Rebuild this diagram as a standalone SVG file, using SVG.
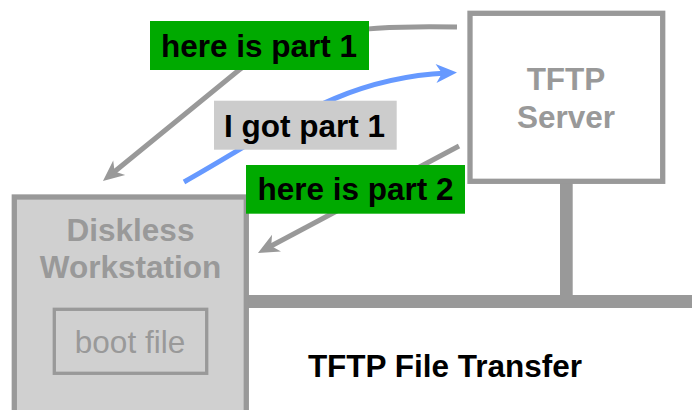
<svg xmlns="http://www.w3.org/2000/svg" width="692" height="410" viewBox="0 0 692 410">
  <style>
    text { font-family: "Liberation Sans", Arial, sans-serif; font-size: 31.5px; text-anchor: middle; }
    .bold { font-weight: bold; }
    .node-title { font-weight: bold; fill: #999999; }
    .label-text { font-weight: bold; fill: #000000; }
    .wire { fill: #999999; }
    .flow { fill: none; stroke-width: 5; }
    .grey-flow { stroke: #999999; }
    .blue-flow { stroke: #6699ff; }
    .green-tag { fill: #00aa00; }
    .grey-tag { fill: #cccccc; }
  </style>
  <defs>
    <marker id="head-grey" markerUnits="userSpaceOnUse" viewBox="-12 -11 24 22" refX="0" refY="0" markerWidth="24" markerHeight="22" orient="auto">
      <path d="M10,0 L-11,-9.5 L-5,0 L-11,9.5 Z" fill="#999999"/>
    </marker>
    <marker id="head-blue" markerUnits="userSpaceOnUse" viewBox="-12 -11 24 22" refX="0" refY="0" markerWidth="24" markerHeight="22" orient="auto">
      <path d="M10,0 L-11,-9.5 L-5,0 L-11,9.5 Z" fill="#6699ff"/>
    </marker>
  </defs>

  <!-- network bus and server drop -->
  <g id="network">
    <rect class="wire" x="246" y="295" width="446" height="13"/>
    <rect class="wire" x="560" y="181" width="12.7" height="116"/>
  </g>

  <g id="tftp-server">
    <rect x="470" y="13.3" width="192.7" height="168" fill="#ffffff" stroke="#999999" stroke-width="5.3"/>
    <text class="node-title" x="566" y="90">TFTP</text>
    <text class="node-title" x="566" y="127.7">Server</text>
  </g>

  <g id="diskless-workstation">
    <rect x="14.3" y="197" width="232" height="230" fill="#d0d0d0" stroke="#999999" stroke-width="5.3"/>
    <text class="node-title" x="130.5" y="241">Diskless</text>
    <text class="node-title" x="130.5" y="278">Workstation</text>
  </g>

  <g id="boot-file">
    <rect x="54.3" y="309.3" width="152.4" height="64" fill="none" stroke="#999999" stroke-width="3.3"/>
    <text x="130" y="352.7" fill="#999999">boot file</text>
  </g>

  <!-- message flows between the two hosts -->
  <g id="connectors">
    <path class="flow grey-flow" d="M457,27 C370,25 290,30 239,70 L110.7,174.7" marker-end="url(#head-grey)"/>
    <path class="flow blue-flow" d="M184,182 C280,128 340,78 447,73" marker-end="url(#head-blue)"/>
    <path class="flow grey-flow" d="M459,146 L266.8,248.3" marker-end="url(#head-grey)"/>
  </g>

  <g id="label-part1">
    <rect class="green-tag" x="150" y="21" width="219" height="49"/>
    <text class="label-text" x="259" y="57.3">here is part 1</text>
  </g>

  <g id="label-ack1">
    <rect class="grey-tag" x="214" y="100.7" width="182.7" height="49"/>
    <text class="label-text" x="304.5" y="136.7">I got part 1</text>
  </g>

  <g id="label-part2">
    <rect class="green-tag" x="246" y="165" width="219" height="48.7"/>
    <text class="label-text" x="355.5" y="200">here is part 2</text>
  </g>

  <g id="caption">
    <text class="bold" x="445" y="376.7" fill="#000000">TFTP File Transfer</text>
  </g>
</svg>
